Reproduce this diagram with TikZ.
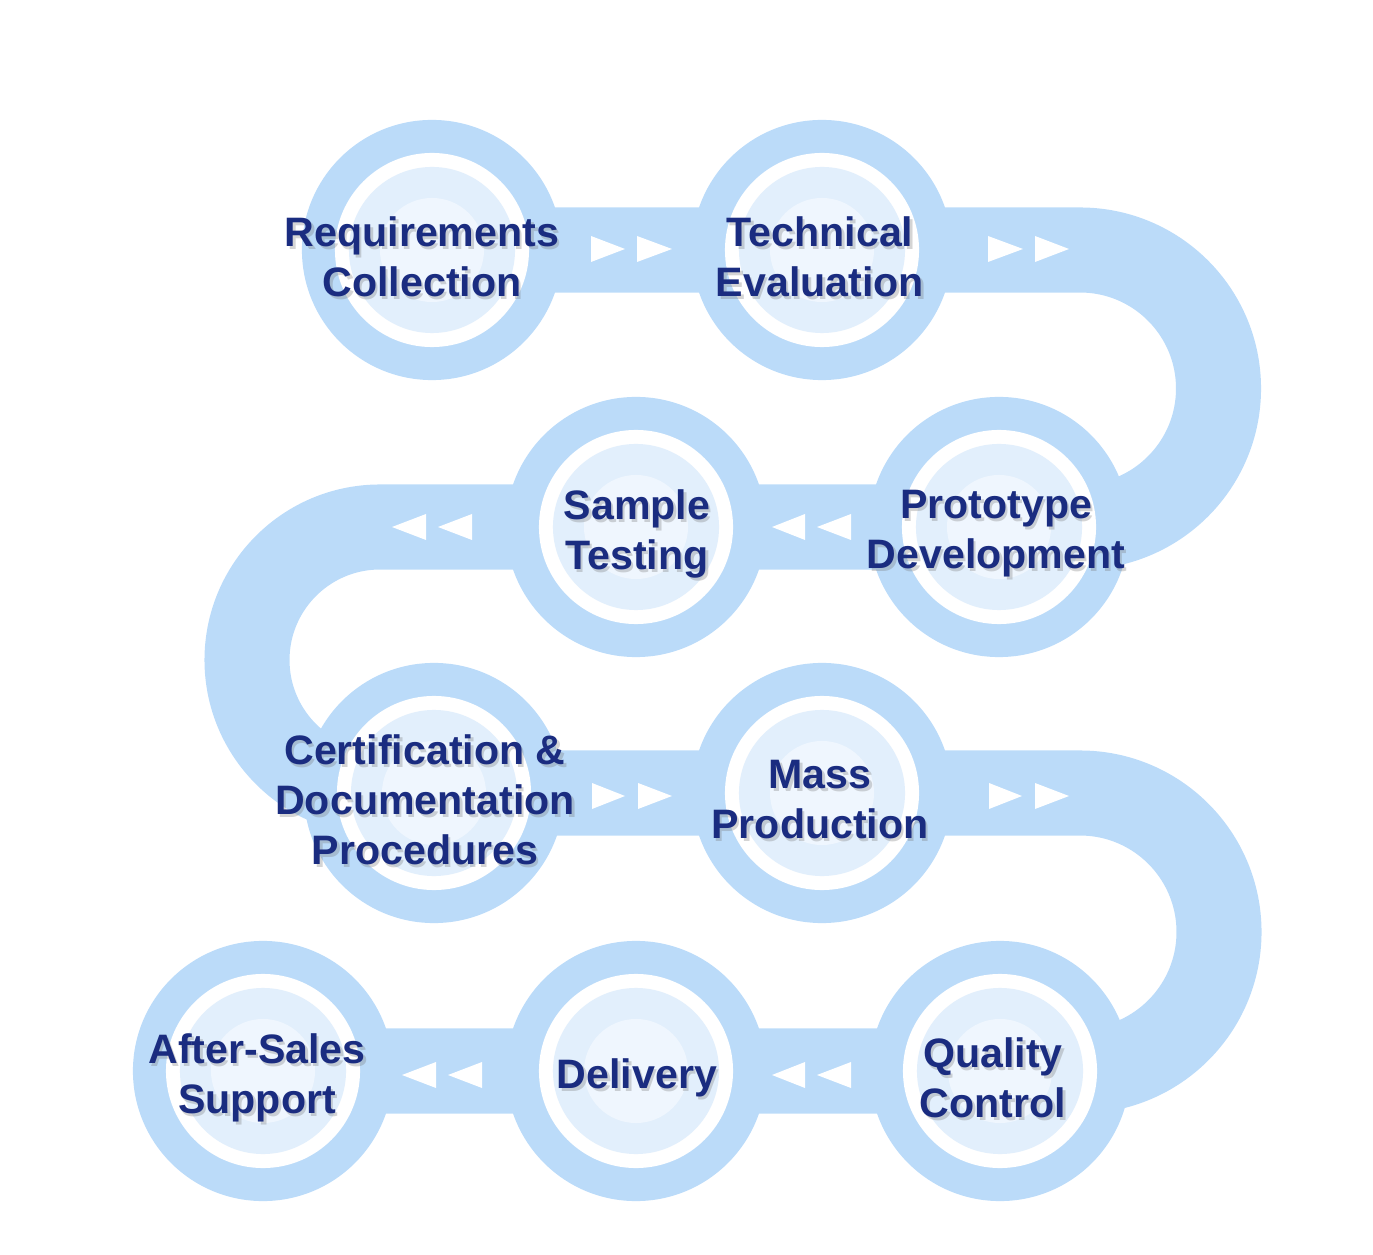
\documentclass[tikz,border=0pt]{standalone}
\usepackage{xcolor}
\usepackage{fontspec}
\setmainfont{Liberation Sans}
\usepackage{tikz}
\pgfdeclarelayer{background}
\pgfsetlayers{background,main}

\definecolor{bandblue}{RGB}{187,219,249}
\definecolor{innerblue}{RGB}{226,239,252}
\definecolor{coreblue}{RGB}{239,246,254}
\definecolor{navy}{RGB}{26,44,128}

\begin{document}
\begin{tikzpicture}[x=0.01cm, y=0.01cm,
    ring/.style={circle, fill=bandblue, minimum size=2.6cm, inner sep=0pt,
      path picture={
        \fill[white] (path picture bounding box.center) circle (0.97cm);
        \fill[innerblue] (path picture bounding box.center) circle (0.83cm);
        \fill[coreblue] (path picture bounding box.center) circle (0.52cm);}},
    stagetext/.style={text=navy, align=center, yshift=-0.07cm,
      font=\bfseries\fontsize{11.7}{14.2}\selectfont},
    stageshadow/.style={stagetext, text=black!55, opacity=.3,
      xshift=0.025cm, yshift=-0.03cm},
    stagelabel/.style 2 args={label={[stageshadow, xshift=#2]center:{#1}},
      label={[stagetext, xshift=#2]center:{#1}}},
    band/.style={draw=bandblue, line width=0.85cm},
    pointer/.style={fill=white}]
             \useasboundingbox (0,0) rectangle (1373,1254);

             % stages
             \node[ring, stagelabel={Requirements\\Collection}{-0.1cm}] (req) at (432,1004) {};
             \node[ring, stagelabel={Technical\\Evaluation}{-0.02cm}] (tech) at (822,1004) {};
             \node[ring, stagelabel={Sample\\Testing}{0.01cm}] (samp) at (636,727) {};
             \node[ring, stagelabel={Prototype\\Development}{-0.03cm}] (proto) at (999,727) {};
             \node[ring, stagelabel={Certification \&\\Documentation\\Procedures}{-0.09cm}] (cert) at (434,461) {};
             \node[ring, stagelabel={Mass\\Production}{-0.02cm}] (mass) at (822,461) {};
             \node[ring, stagelabel={After-Sales\\Support}{-0.06cm}] (after) at (263,183) {};
             \node[ring, stagelabel={Delivery}{0.01cm}] (deliv) at (636,183) {};
             \node[ring, stagelabel={Quality\\Control}{-0.07cm}] (qual) at (1000,183) {};

             % the winding road behind the stages
             \begin{pgfonlayer}{background}
             \draw[band] (req.center) -- (tech.center) -- (1080,1004)
                 arc[start angle=90, end angle=-90, radius=138.5]
                 -- (proto.center) -- (samp.center) -- (380,727)
                 arc[start angle=90, end angle=270, radius=133]
                 -- (cert.center) -- (mass.center) -- (1080,461)
                 arc[start angle=90, end angle=-90, radius=139]
                 -- (qual.center) -- (deliv.center) -- (after.center);
             \end{pgfonlayer}

             % direction marks
             \fill[pointer] (591,1018) -- ++(34,-13) -- ++(-34,-13) -- cycle;
             \fill[pointer] (637,1018) -- ++(35,-13) -- ++(-35,-13) -- cycle;
             \fill[pointer] (988,1018) -- ++(35,-13) -- ++(-35,-13) -- cycle;
             \fill[pointer] (1035,1018) -- ++(34,-13) -- ++(-34,-13) -- cycle;

             \fill[pointer] (426,740) -- ++(-34,-13) -- ++(34,-13) -- cycle;
             \fill[pointer] (472,740) -- ++(-34,-13) -- ++(34,-13) -- cycle;
             \fill[pointer] (805,740) -- ++(-33,-13) -- ++(33,-13) -- cycle;
             \fill[pointer] (851,740) -- ++(-34,-13) -- ++(34,-13) -- cycle;

             \fill[pointer] (592,471) -- ++(33,-13) -- ++(-33,-13) -- cycle;
             \fill[pointer] (638,471) -- ++(34,-13) -- ++(-34,-13) -- cycle;
             \fill[pointer] (989,471) -- ++(33,-13) -- ++(-33,-13) -- cycle;
             \fill[pointer] (1035,471) -- ++(34,-13) -- ++(-34,-13) -- cycle;

             \fill[pointer] (436,192) -- ++(-34,-13) -- ++(34,-13) -- cycle;
             \fill[pointer] (482,192) -- ++(-34,-13) -- ++(34,-13) -- cycle;
             \fill[pointer] (805,192) -- ++(-33,-13) -- ++(33,-13) -- cycle;
             \fill[pointer] (851,192) -- ++(-34,-13) -- ++(34,-13) -- cycle;
\end{tikzpicture}
\end{document}
